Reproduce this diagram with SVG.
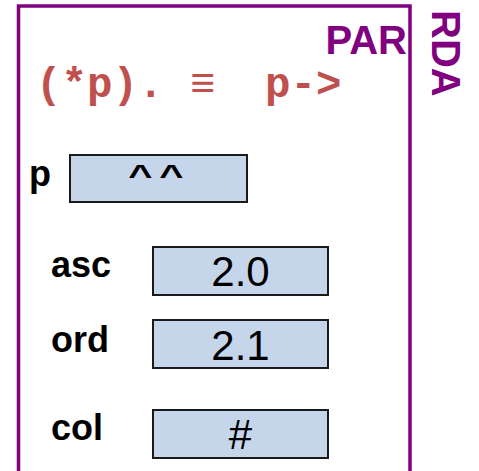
<svg xmlns="http://www.w3.org/2000/svg" width="479" height="471" viewBox="0 0 479 471">
  <style>
    .frame { fill: none; stroke: #800080; stroke-width: 3.5; }
    .title { font-family: "Liberation Sans", Arial, sans-serif; font-weight: bold; font-size: 40px; fill: #800080; }
    .code { font-family: "Liberation Mono", "DejaVu Sans Mono", monospace; font-weight: bold; font-size: 42.5px; fill: #c0504d; }
    .cell { fill: #c6d6ea; stroke: #1a1a1a; stroke-width: 2; }
    .label { font-family: "Liberation Sans", Arial, sans-serif; font-weight: bold; font-size: 36px; fill: #000; }
    .value { font-family: "Liberation Sans", Arial, sans-serif; font-size: 42px; fill: #000; text-anchor: middle; }
  </style>

  <!-- record frame, open at the bottom -->
  <path class="frame" d="M18.5,471 V6 H410 V471"/>
  <text class="title" x="407" y="54" text-anchor="end">PAR</text>
  <text class="title" transform="translate(432,10) rotate(90)">RDA</text>

  <!-- member access equivalence -->
  <text class="code" y="97"><tspan x="36">(*p).</tspan><tspan x="190">≡</tspan><tspan x="265">p-&gt;</tspan></text>

  <g id="node-p">
    <text class="label" x="29" y="186">p</text>
    <rect class="cell" x="70" y="155" width="177" height="47"/>
    <!-- flattened carets -->
    <text class="label" transform="translate(0,163) scale(1.15,0.8)" x="122 149" y="28" font-size="30" text-anchor="middle">^^</text>
  </g>

  <g id="node-asc">
    <text class="label" x="51" y="277">asc</text>
    <rect class="cell" x="153" y="247" width="175" height="48"/>
    <text class="value" x="240.5" y="286">2.0</text>
  </g>

  <g id="node-ord">
    <text class="label" x="51" y="352">ord</text>
    <rect class="cell" x="153" y="320" width="175" height="48"/>
    <text class="value" x="240.5" y="360">2.1</text>
  </g>

  <g id="node-col">
    <text class="label" x="51" y="440">col</text>
    <rect class="cell" x="153" y="410" width="175" height="48"/>
    <text class="value" x="240.5" y="449" font-size="36">#</text>
  </g>

  <g id="connectors"/>
</svg>
